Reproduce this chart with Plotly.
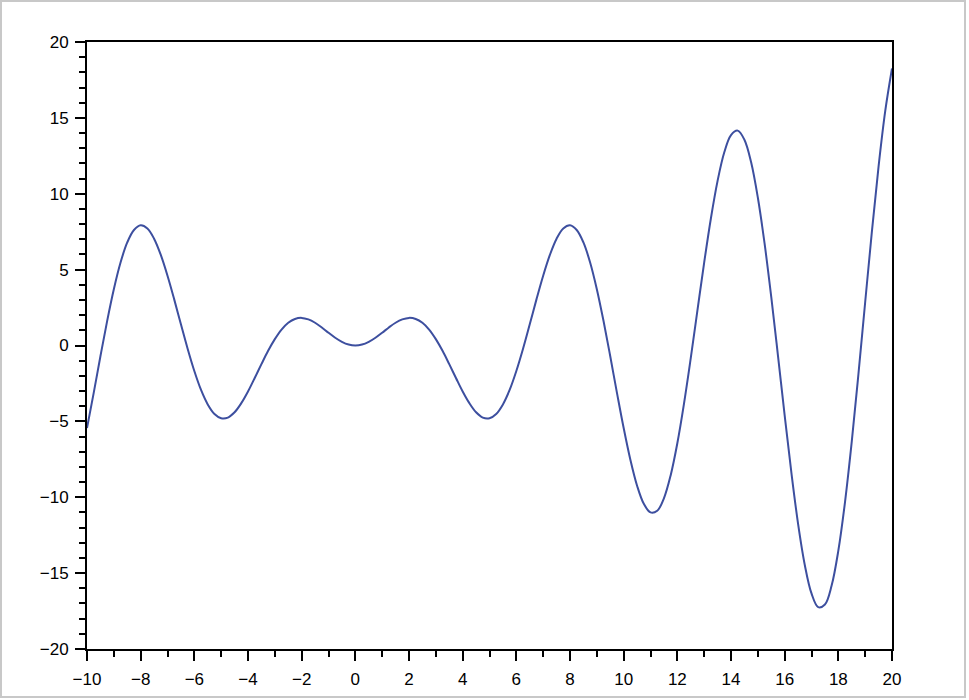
import plotly.graph_objects as go

x_vals = [
    -10, -9.75, -9.5, -9.25, -9, -8.75, -8.5, -8.25, -8, -7.75, -7.5, -7.25, -7, -6.75,
    -6.5, -6.25, -6, -5.75, -5.5, -5.25, -5, -4.75, -4.5, -4.25, -4, -3.75, -3.5, -3.25,
    -3, -2.75, -2.5, -2.25, -2, -1.75, -1.5, -1.25, -1, -0.75, -0.5, -0.25,
    0, 0.25, 0.5, 0.75, 1, 1.25, 1.5, 1.75, 2, 2.25, 2.5, 2.75, 3, 3.25, 3.5, 3.75,
    4, 4.25, 4.5, 4.75, 5, 5.25, 5.5, 5.75, 6, 6.25, 6.5, 6.75, 7, 7.25, 7.5, 7.75,
    8, 8.25, 8.5, 8.75, 9, 9.25, 9.5, 9.75, 10,
    10.25, 10.5, 10.75, 11, 11.25, 11.5, 11.75, 12, 12.25, 12.5, 12.75, 13, 13.25,
    13.5, 13.75, 14, 14.25, 14.5, 14.75, 15, 15.25, 15.5, 15.75, 16, 16.25, 16.5,
    16.75, 17, 17.25, 17.5, 17.75, 18, 18.25, 18.5, 18.75, 19, 19.25, 19.5, 19.75, 20,
]
y_vals = [
    -5.44, -3.12, -0.71, 1.61, 3.71, 5.47, 6.79, 7.61, 7.92, 7.71, 7.04, 5.97, 4.60, 3.04,
    1.40, -0.21, -1.68, -2.93, -3.88, -4.51, -4.79, -4.75, -4.40, -3.80, -3.03, -2.14,
    -1.23, -0.35, 0.42, 1.05, 1.50, 1.75, 1.82, 1.72, 1.50, 1.19, 0.84, 0.51, 0.24, 0.06,
    0.00, 0.06, 0.24, 0.51, 0.84, 1.19, 1.50, 1.72, 1.82, 1.75, 1.50, 1.05, 0.42, -0.35,
    -1.23, -2.14, -3.03, -3.80, -4.40, -4.75, -4.79, -4.51, -3.88, -2.93, -1.68, -0.21,
    1.40, 3.04, 4.60, 5.97, 7.04, 7.71, 7.92, 7.61, 6.79, 5.47, 3.71, 1.61, -0.71, -3.12,
    -5.44,
    -7.53, -9.24, -10.43, -11.00, -10.89, -10.07, -8.56, -6.44, -3.81, -0.83, 2.33, 5.46,
    8.37, 10.85, 12.73, 13.87, 14.16, 13.56, 12.07, 9.75, 6.74, 3.20, -0.66, -4.61,
    -8.38, -11.75, -14.46, -16.34, -17.24, -17.07, -15.82, -13.52, -10.30, -6.34, -1.86,
    2.85, 7.50, 11.81, 15.48, 18.26,
]

x_ticks = [-10, -8, -6, -4, -2, 0, 2, 4, 6, 8, 10, 12, 14, 16, 18, 20]
y_ticks = [-20, -15, -10, -5, 0, 5, 10, 15, 20]


def fmt(v):
    return str(v).replace('-', '\u2212')


fig = go.Figure()
fig.add_trace(go.Scatter(
    x=x_vals, y=y_vals, mode='lines',
    line=dict(color='#3d4f9f', width=2, shape='spline', smoothing=1.0),
    hoverinfo='skip', showlegend=False,
))

axis_common = dict(
    showgrid=False, zeroline=False,
    showline=True, linecolor='black', linewidth=2, mirror=True,
    ticks='outside', ticklen=10, tickwidth=1.5, tickcolor='black',
    tickfont=dict(family='Liberation Sans, Arial, sans-serif', size=17, color='black'),
)

W, H = 969, 700
L, R, T, B = 87, 77, 42, 51
pw, ph = W - L - R, H - T - B

fig.update_layout(
    width=W, height=H,
    margin=dict(l=L, r=R, t=T, b=B),
    paper_bgcolor='white', plot_bgcolor='white',
    xaxis=dict(range=[-10, 20], tickvals=x_ticks, ticktext=[fmt(v) for v in x_ticks],
               ticklabelstandoff=4,
               minor=dict(ticks='outside', ticklen=6, dtick=1, tickcolor='black', tickwidth=1.5),
               **axis_common),
    yaxis=dict(range=[-20, 20], tickvals=y_ticks, ticktext=[fmt(v) for v in y_ticks],
               ticklabelstandoff=3,
               minor=dict(ticks='outside', ticklen=6, dtick=1, tickcolor='black', tickwidth=1.5),
               **axis_common),
    # light grey frame around the whole picture
    shapes=[dict(
        type='rect', xref='paper', yref='paper',
        x0=(1 - L) / pw, x1=(965 - L) / pw,
        y0=(H - B - 697) / ph, y1=(H - B - 1) / ph,
        line=dict(color='#c8c8c8', width=2), layer='below',
    )],
)

fig.write_html("out.html", config=dict(displayModeBar=False),
               post_script="document.body.style.margin='0';")
